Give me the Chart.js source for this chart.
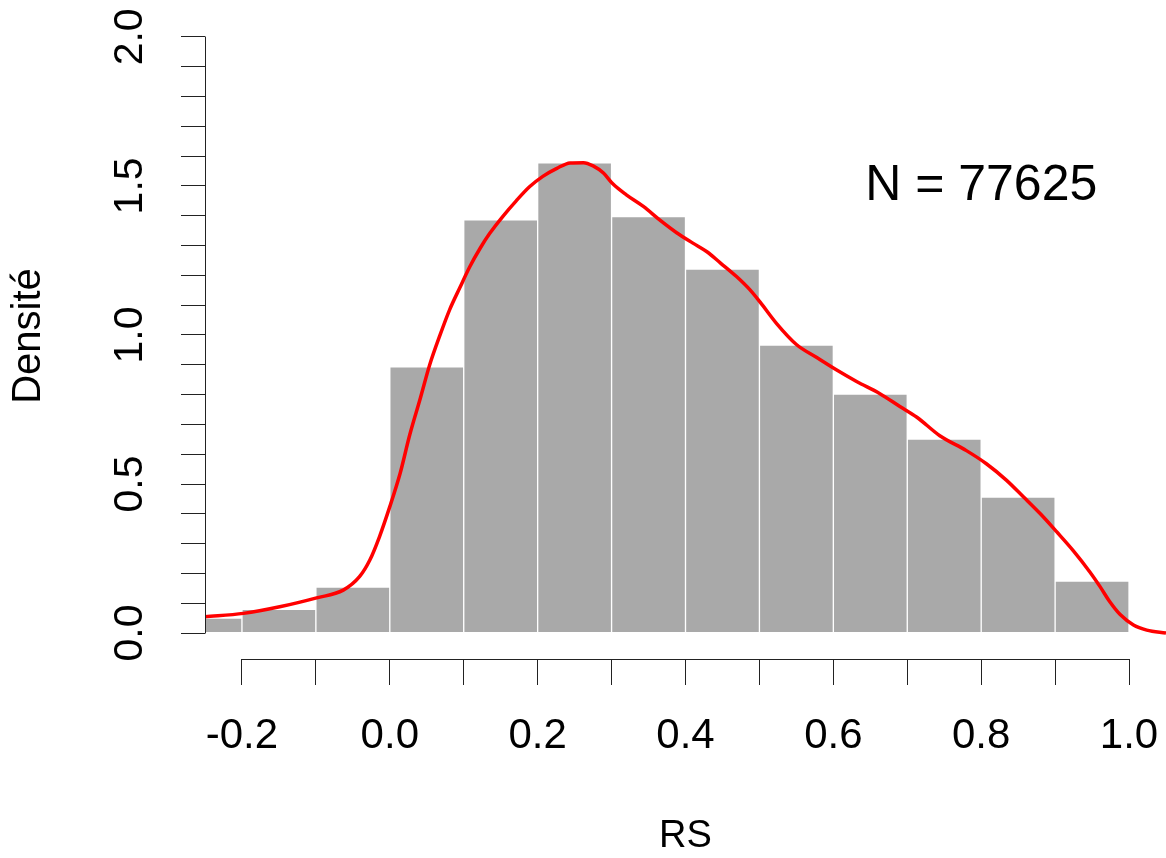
<!doctype html>
<html lang="fr">

<head>
    <meta charset="utf-8">
    <title>Densité RS</title>
    <script src="https://cdn.jsdelivr.net/npm/chart.js"></script>
    <style>
        body {
            margin: 0;
            background: #ffffff;
        }

        .cadre {
            width: 1166px;
            height: 858px;
        }
    </style>
</head>

<body>

    <div class="cadre"><canvas id="chart"></canvas></div>

    <script>
        // histogramme : centre de chaque classe (largeur 0.1) et densité
        const binCenters = [-0.25, -0.15, -0.05, 0.05, 0.15, 0.25, 0.35, 0.45, 0.55, 0.65, 0.75, 0.85, 0.95];
        const binDensity = [0.05, 0.08, 0.154, 0.893, 1.386, 1.577, 1.397, 1.221, 0.966, 0.802, 0.651, 0.456, 0.174];

        // densité estimée (courbe rouge)
        const kdeX = [-0.25, -0.198, -0.149, -0.099, -0.063, -0.041, -0.027, -0.014, 0.0, 0.014, 0.027, 0.041,
            0.054, 0.068, 0.081, 0.095, 0.108, 0.122, 0.135, 0.153, 0.171, 0.189, 0.207, 0.226, 0.244, 0.262,
            0.275, 0.289, 0.302, 0.32, 0.343, 0.365, 0.388, 0.41, 0.429, 0.447, 0.469, 0.487, 0.501, 0.523,
            0.55, 0.577, 0.604, 0.632, 0.663, 0.69, 0.713, 0.744, 0.78, 0.807, 0.834, 0.857, 0.88, 0.902,
            0.925, 0.947, 0.961, 0.974, 0.988, 1.006, 1.024, 1.05];
        const kdeY = [0.055, 0.066, 0.088, 0.118, 0.144, 0.189, 0.245, 0.323, 0.424, 0.536, 0.665, 0.785,
            0.9, 1.0, 1.085, 1.16, 1.228, 1.29, 1.34, 1.398, 1.45, 1.497, 1.532, 1.559, 1.577, 1.578,
            1.567, 1.543, 1.506, 1.47, 1.431, 1.386, 1.343, 1.308, 1.279, 1.242, 1.196, 1.152, 1.11, 1.039,
            0.968, 0.925, 0.883, 0.843, 0.803, 0.76, 0.724, 0.662, 0.612, 0.568, 0.513, 0.457, 0.4, 0.34,
            0.275, 0.205, 0.155, 0.105, 0.062, 0.027, 0.01, 0.0];

        const xTickLabels = ['-0.2', '0.0', '0.2', '0.4', '0.6', '0.8', '1.0'];
        const yTickLabels = ['0.0', '0.5', '1.0', '1.5', '2.0'];
        const nObs = 77625;

        Chart.defaults.font.family = '"Liberation Sans", Arial, sans-serif';
        Chart.defaults.color = '#000000';

        const crisp = p => Math.round(p - 0.5) + 0.5;

        // graduations tous les 0.1 entre deux bornes
        const graduations = (from, to) => {
            const out = [];
            for (let k = Math.round(from * 10); k <= Math.round(to * 10); k++) out.push({ value: k / 10 });
            return out;
        };

        // axes façon R : trait limité entre la première et la dernière graduation, plus le texte N
        const axesR = {
            id: 'axesR',
            afterDraw(chart) {
                const { ctx, chartArea, scales: { x, y } } = chart;
                ctx.save();
                ctx.strokeStyle = '#222222';
                ctx.lineWidth = 1;
                ctx.beginPath();
                ctx.moveTo(crisp(x.getPixelForValue(-0.2)), crisp(chartArea.bottom));
                ctx.lineTo(crisp(x.getPixelForValue(1.0)), crisp(chartArea.bottom));
                ctx.moveTo(crisp(chartArea.left), crisp(y.getPixelForValue(0)));
                ctx.lineTo(crisp(chartArea.left), crisp(y.getPixelForValue(2.0)));
                ctx.stroke();

                ctx.fillStyle = '#000000';
                ctx.font = '50px "Liberation Sans", Arial, sans-serif';
                ctx.textAlign = 'center';
                ctx.textBaseline = 'middle';
                ctx.fillText('N = ' + nObs, x.getPixelForValue(0.8), y.getPixelForValue(1.5));
                ctx.restore();
            }
        };

        const ctx = document.getElementById('chart').getContext('2d');
        new Chart(ctx, {
            type: 'bar',
            data: {
                datasets: [{
                    type: 'line',
                    data: kdeX.map((v, i) => ({ x: v, y: kdeY[i] })),
                    borderColor: '#ff0000',
                    borderWidth: 3.5,
                    pointRadius: 0,
                    cubicInterpolationMode: 'monotone',
                    order: 0
                }, {
                    type: 'bar',
                    data: binCenters.map((v, i) => ({ x: v, y: binDensity[i] })),
                    backgroundColor: '#a9a9a9',
                    borderColor: '#ffffff',
                    borderWidth: 1,
                    borderSkipped: false,
                    barPercentage: 1,
                    categoryPercentage: 1,
                    clip: 0,
                    order: 1
                }]
            },
            options: {
                responsive: true,
                maintainAspectRatio: false,
                animation: false,
                events: [],
                layout: { padding: { top: 13, right: 0, bottom: 0, left: 0 } },
                plugins: {
                    legend: { display: false },
                    tooltip: { enabled: false }
                },
                scales: {
                    x: {
                        type: 'linear',
                        min: -0.25,
                        max: 1.05,
                        offset: false,
                        border: { display: false },
                        grid: {
                            offset: false,
                            drawOnChartArea: false,
                            drawTicks: true,
                            tickLength: 26,
                            color: '#222222'
                        },
                        ticks: {
                            autoSkip: false,
                            maxRotation: 0,
                            padding: 26,
                            font: { size: 42 },
                            callback: v => {
                                const s = Number(v).toFixed(1);
                                return xTickLabels.includes(s) ? s : '';
                            }
                        },
                        afterBuildTicks: s => { s.ticks = graduations(-0.2, 1.0); },
                        title: {
                            display: true,
                            text: 'RS',
                            font: { size: 38, lineHeight: 1 },
                            padding: { top: 0, bottom: 2 }
                        },
                        afterFit: s => {
                            s.height = 199;
                            s.paddingLeft = 0;
                            s.paddingRight = 0;
                        }
                    },
                    y: {
                        min: -0.087,
                        max: 2.08,
                        border: { display: false },
                        grid: {
                            drawOnChartArea: false,
                            drawTicks: true,
                            tickLength: 24,
                            color: '#222222'
                        },
                        ticks: {
                            autoSkip: false,
                            minRotation: 90,
                            maxRotation: 90,
                            crossAlign: 'center',
                            padding: 22,
                            font: { size: 41 },
                            callback: v => {
                                const s = Number(v).toFixed(1);
                                return yTickLabels.includes(s) ? s : '';
                            }
                        },
                        afterBuildTicks: s => { s.ticks = graduations(0, 2.0); },
                        title: {
                            display: true,
                            text: 'Densité',
                            font: { size: 40, lineHeight: 1 },
                            padding: { top: 9, bottom: 0 }
                        },
                        afterFit: s => {
                            s.width = 205;
                            s.paddingTop = 0;
                            s.paddingBottom = 0;
                        }
                    }
                }
            },
            plugins: [axesR]
        });
    </script>
</body>

</html>
